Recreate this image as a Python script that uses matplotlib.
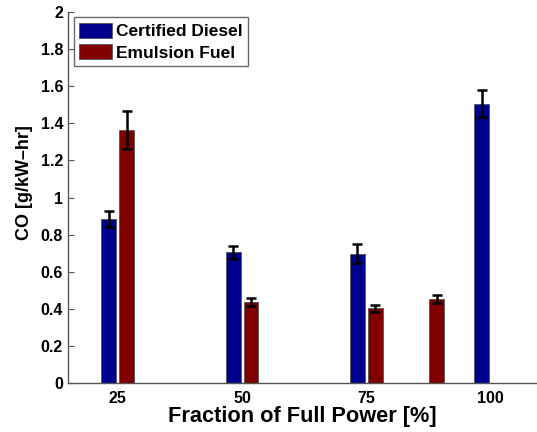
import matplotlib
matplotlib.use("Agg")
import matplotlib.pyplot as plt
import numpy as np

plt.rcParams['font.family'] = ['Liberation Sans', 'DejaVu Sans']
plt.rcParams['font.weight'] = 'bold'

# Data
diesel_power = [25, 50, 75, 100]
diesel_co = [0.885, 0.704, 0.697, 1.506]
diesel_err = [0.043, 0.036, 0.051, 0.073]

emulsion_power = [25, 50, 75, 87.3]
emulsion_co = [1.364, 0.437, 0.403, 0.451]
emulsion_err = [0.10, 0.020, 0.018, 0.022]

xticks = [25, 50, 75, 100]
yticks = [0, 0.2, 0.4, 0.6, 0.8, 1, 1.2, 1.4, 1.6, 1.8, 2]
ytick_labels = ['0', '0.2', '0.4', '0.6', '0.8', '1', '1.2', '1.4', '1.6', '1.8', '2']

blue = (0, 0, 0.5625)
red = (0.5, 0, 0)
off = 1.8
w = 3.0

fig = plt.figure(figsize=(5.37, 4.32), dpi=100)
ax = fig.add_axes([0.1266, 0.1134, 0.8734, 0.8588])

dx = np.array(diesel_power) - off
ex = np.array(emulsion_power) + off
ax.bar(dx, diesel_co, width=w, color=blue, edgecolor='#555555', linewidth=0.6,
       label='Certified Diesel', zorder=2)
ax.bar(ex, emulsion_co, width=w, color=red, edgecolor='#555555', linewidth=0.6,
       label='Emulsion Fuel', zorder=2)
ax.errorbar(dx, diesel_co, yerr=diesel_err, fmt='none', ecolor='black',
            elinewidth=1.8, capsize=3.5, capthick=1.8, zorder=3)
ax.errorbar(ex, emulsion_co, yerr=emulsion_err, fmt='none', ecolor='black',
            elinewidth=1.8, capsize=3.5, capthick=1.8, zorder=3)

ax.set_xlim(15, 109.3)
ax.set_ylim(0, 2)
ax.set_xticks(xticks)
ax.set_xticklabels([str(t) for t in xticks], fontsize=11.5, fontweight='bold')
ax.set_yticks(yticks)
ax.set_yticklabels(ytick_labels, fontsize=11.5, fontweight='bold')
ax.tick_params(direction='in', length=4, color='#555555', width=0.8)
ax.tick_params(axis='x', length=0, pad=6)

for s in ['top', 'right']:
    ax.spines[s].set_visible(False)
for s in ['left', 'bottom']:
    ax.spines[s].set_color('#555555')
    ax.spines[s].set_linewidth(1.0)

ax.set_xlabel('Fraction of Full Power [%]', fontsize=15.7, fontweight='bold', labelpad=0)
ax.set_ylabel('CO [g/kW\u2013hr]', fontsize=13, fontweight='bold')
ax.yaxis.set_label_coords(-0.075, 0.539)

leg = ax.legend(loc='upper left', bbox_to_anchor=(0.005, 0.995), fontsize=12.5,
                frameon=True, fancybox=False, edgecolor='#444444',
                handlelength=1.9, handleheight=0.95, handletextpad=0.25,
                borderpad=0.3, labelspacing=0.3, borderaxespad=0.2)
leg.get_frame().set_linewidth(1.0)
for t in leg.get_texts():
    t.set_fontweight('bold')

fig.savefig('out.png', dpi=100)
